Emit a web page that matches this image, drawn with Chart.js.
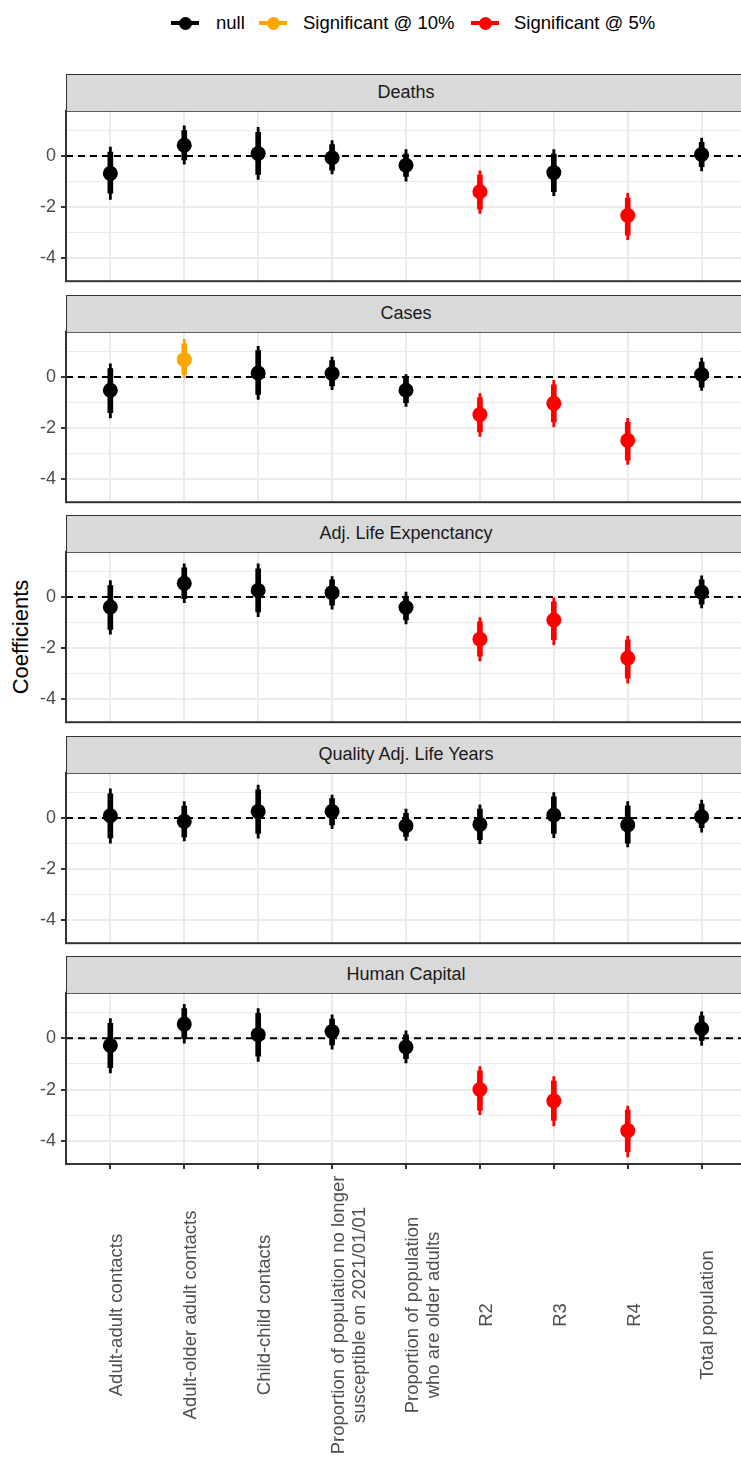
<!DOCTYPE html>
<html>
<head>
<meta charset="utf-8">
<script src="https://cdn.jsdelivr.net/npm/chart.js@4.4.1/dist/chart.umd.min.js"></script>
<style>
  html, body { margin: 0; padding: 0; background: #fff; overflow: hidden; }
  body { width: 741px; height: 1457px; position: relative; font-family: "Liberation Sans", Arial, sans-serif; }
  .panel { position: absolute; left: 0; width: 760px; }
  .strip { position: absolute; left: 66px; width: 680px; height: 37px; box-sizing: border-box;
           background: #d9d9d9; border: 1px solid #333; border-bottom: none; color: #1a1a1a;
           font-size: 18px; line-height: 35px; text-align: center; }
  .mk { position: absolute; width: 28px; height: 4px; top: 21px; }
  .mk::after { content: ""; position: absolute; width: 13px; height: 13px; border-radius: 50%;
               left: 7.5px; top: -4.5px; background: inherit; }
  .lt { position: absolute; top: 12px; height: 22px; line-height: 22px; font-size: 18.5px; color: #000; white-space: nowrap; }
  #ytitle { position: absolute; left: 21px; top: 637px; transform: translate(-50%, -50%) rotate(-90deg);
            font-size: 22px; color: #000; white-space: nowrap; }
</style>
</head>
<body>
<div class="mk" style="left:171px;background:#000"></div><div class="lt" style="left:216px">null</div>
<div class="mk" style="left:259px;background:#ffa500"></div><div class="lt" style="left:303px">Significant @ 10%</div>
<div class="mk" style="left:471px;background:#ff0000"></div><div class="lt" style="left:514px">Significant @ 5%</div>
<div id="ytitle">Coefficients</div>
<div id="panels"></div>

<script>
const categories = ['Adult-adult contacts', 'Adult-older adult contacts', 'Child-child contacts',
  'Proportion of population no longer\nsusceptible on 2021/01/01',
  'Proportion of population\nwho are older adults', 'R2', 'R3', 'R4', 'Total population'];
const outcomes = ['Deaths', 'Cases', 'Adj. Life Expenctancy', 'Quality Adj. Life Years', 'Human Capital'];
const yTicks = [-4, -3, -2, -1, 0, 1];

const deathsEst = [-0.68, 0.42, 0.1, -0.07, -0.36, -1.4, -0.65, -2.33, 0.06];
const deathsInner = [[-1.45, 0.15], [-0.15, 1.0], [-0.72, 0.93], [-0.55, 0.45], [-0.8, 0.08], [-2.08, -0.75], [-1.4, 0.08], [-3.1, -1.65], [-0.42, 0.54]];
const deathsOuter = [[-1.7, 0.35], [-0.32, 1.18], [-0.92, 1.12], [-0.7, 0.6], [-0.98, 0.25], [-2.25, -0.58], [-1.55, 0.25], [-3.27, -1.46], [-0.58, 0.7]];
const deathsSig = ['null', 'null', 'null', 'null', 'null', '5%', 'null', '5%', 'null'];

const casesEst = [-0.52, 0.68, 0.16, 0.14, -0.52, -1.47, -1.03, -2.48, 0.1];
const casesInner = [[-1.4, 0.33], [0.1, 1.3], [-0.68, 1.03], [-0.35, 0.64], [-1.0, -0.05], [-2.15, -0.8], [-1.76, -0.31], [-3.25, -1.77], [-0.4, 0.58]];
const casesOuter = [[-1.6, 0.52], [-0.02, 1.48], [-0.88, 1.2], [-0.5, 0.78], [-1.15, 0.1], [-2.33, -0.65], [-1.95, -0.13], [-3.42, -1.62], [-0.52, 0.74]];
const casesSig = ['null', '10%', 'null', 'null', 'null', '5%', '5%', '5%', 'null'];

const lifeExpEst = [-0.39, 0.54, 0.26, 0.17, -0.41, -1.65, -0.9, -2.39, 0.19];
const lifeExpInner = [[-1.27, 0.45], [-0.06, 1.14], [-0.58, 1.1], [-0.32, 0.67], [-0.9, 0.03], [-2.32, -0.97], [-1.67, -0.19], [-3.18, -1.68], [-0.28, 0.67]];
const lifeExpOuter = [[-1.45, 0.64], [-0.22, 1.3], [-0.77, 1.3], [-0.48, 0.8], [-1.05, 0.19], [-2.5, -0.8], [-1.87, -0.03], [-3.37, -1.53], [-0.43, 0.83]];
const lifeExpSig = ['null', 'null', 'null', 'null', 'null', '5%', '5%', '5%', 'null'];

const qalyEst = [0.09, -0.13, 0.26, 0.26, -0.3, -0.25, 0.12, -0.27, 0.05];
const qalyInner = [[-0.78, 0.95], [-0.74, 0.47], [-0.6, 1.1], [-0.27, 0.76], [-0.72, 0.18], [-0.85, 0.35], [-0.6, 0.83], [-0.98, 0.48], [-0.38, 0.55]];
const qalyOuter = [[-0.98, 1.14], [-0.9, 0.64], [-0.79, 1.29], [-0.42, 0.9], [-0.88, 0.35], [-1.0, 0.52], [-0.77, 1.0], [-1.13, 0.64], [-0.55, 0.7]];
const qalySig = ['null', 'null', 'null', 'null', 'null', 'null', 'null', 'null', 'null'];

const humanCapEst = [-0.28, 0.55, 0.14, 0.26, -0.34, -2.0, -2.44, -3.6, 0.37];
const humanCapInner = [[-1.15, 0.58], [-0.02, 1.16], [-0.7, 0.97], [-0.26, 0.75], [-0.8, 0.13], [-2.8, -1.27], [-3.2, -1.67], [-4.42, -2.8], [-0.09, 0.87]];
const humanCapOuter = [[-1.35, 0.77], [-0.19, 1.32], [-0.9, 1.16], [-0.43, 0.91], [-0.96, 0.29], [-2.98, -1.1], [-3.42, -1.49], [-4.62, -2.64], [-0.28, 1.03]];
const humanCapSig = ['null', 'null', 'null', 'null', 'null', '5%', '5%', '5%', 'null'];

const sigColors = { 'null': '#000000', '10%': '#ffa500', '5%': '#ff0000' };

const panelData = [
  [deathsEst, deathsInner, deathsOuter, deathsSig],
  [casesEst, casesInner, casesOuter, casesSig],
  [lifeExpEst, lifeExpInner, lifeExpOuter, lifeExpSig],
  [qalyEst, qalyInner, qalyOuter, qalySig],
  [humanCapEst, humanCapInner, humanCapOuter, humanCapSig]
];

// plot area tops (px) of the 5 facets
const plotTops = [110, 331, 551, 772, 992];
const PAD = 15, PLOT_H = 172;

const panelBox = {
  id: 'panelBox',
  afterDraw(chart) {
    const { ctx, chartArea: a } = chart;
    ctx.save();
    ctx.strokeStyle = '#333';
    ctx.lineWidth = 2;
    ctx.strokeRect(a.left, a.top, a.right - a.left, a.bottom - a.top);
    ctx.restore();
  }
};

function xLabelPlugin(midY) {
  return {
    id: 'xLabels',
    afterDraw(chart) {
      const ctx = chart.ctx, sx = chart.scales.x;
      ctx.save();
      ctx.font = '18.5px "Liberation Sans", Arial, sans-serif';
      ctx.fillStyle = '#4d4d4d';
      ctx.textAlign = 'center';
      ctx.textBaseline = 'top';
      categories.forEach((c, i) => {
        ctx.save();
        ctx.translate(sx.getPixelForValue(i) - 2.5, midY);
        ctx.rotate(-Math.PI / 2);
        c.split('\n').forEach((line, j) => ctx.fillText(line, 0, j * 21));
        ctx.restore();
      });
      ctx.restore();
    }
  };
}

const holder = document.getElementById('panels');

outcomes.forEach((name, k) => {
  const [est, inner, outer, sig] = panelData[k];
  const last = k === outcomes.length - 1;
  const top = plotTops[k] - PAD;
  const height = last ? 1457 - top : PAD + PLOT_H + PAD;
  const bottomPad = last ? height - PAD - PLOT_H - 5 : PAD;

  const strip = document.createElement('div');
  strip.className = 'strip';
  strip.style.top = (plotTops[k] - 36) + 'px';
  strip.textContent = name;
  document.body.appendChild(strip);

  const box = document.createElement('div');
  box.className = 'panel';
  box.style.top = top + 'px';
  box.style.height = height + 'px';
  const cv = document.createElement('canvas');
  box.appendChild(cv);
  holder.appendChild(box);

  const colors = sig.map(s => sigColors[s]);

  new Chart(cv, {
    type: 'bar',
    data: {
      datasets: [
        {
          type: 'line',
          data: [{ x: -0.6, y: 0 }, { x: 8.6, y: 0 }],
          borderColor: '#000',
          borderWidth: 2,
          borderDash: [7, 5],
          pointRadius: 0,
          order: 4
        },
        {
          data: outer.map((r, i) => ({ x: i, y: r })),
          backgroundColor: colors,
          barThickness: 2.2,
          grouped: false,
          order: 3
        },
        {
          data: inner.map((r, i) => ({ x: i, y: r })),
          backgroundColor: colors,
          barThickness: 5,
          grouped: false,
          order: 2
        },
        {
          type: 'line',
          data: est.map((v, i) => ({ x: i, y: v })),
          showLine: false,
          pointRadius: 7.5,
          pointBorderWidth: 0,
          pointBackgroundColor: colors,
          order: 1
        }
      ]
    },
    options: {
      responsive: true,
      maintainAspectRatio: false,
      animation: false,
      layout: { padding: { top: PAD, bottom: bottomPad, left: 0, right: 14 } },
      plugins: { legend: { display: false }, tooltip: { enabled: false } },
      scales: {
        x: {
          type: 'linear',
          min: -0.6,
          max: 8.6,
          offset: false,
          afterBuildTicks: s => { s.ticks = categories.map((c, i) => ({ value: i })); },
          ticks: { display: false },
          grid: {
            offset: false,
            color: '#ebebeb',
            lineWidth: 2,
            drawTicks: last,
            tickLength: 5,
            tickColor: '#333',
            tickWidth: 2
          },
          border: { display: false }
        },
        y: {
          min: -4.9,
          max: 1.77,
          afterBuildTicks: s => { s.ticks = yTicks.map(v => ({ value: v })); },
          afterFit: s => { s.width = 66; },
          ticks: {
            padding: 5,
            color: '#4d4d4d',
            font: { family: '"Liberation Sans", Arial, sans-serif', size: 18 },
            callback: v => (v % 2 === 0 ? String(v) : '')
          },
          grid: {
            color: '#ebebeb',
            lineWidth: c => (c.tick && c.tick.value % 2 === 0 ? 2 : 1),
            tickLength: 5,
            tickWidth: 2,
            tickColor: c => (c.tick && c.tick.value % 2 === 0 ? '#333' : 'rgba(0,0,0,0)')
          },
          border: { display: false }
        }
      }
    },
    plugins: last ? [panelBox, xLabelPlugin(1315 - top)] : [panelBox]
  });
});
</script>
</body>
</html>
